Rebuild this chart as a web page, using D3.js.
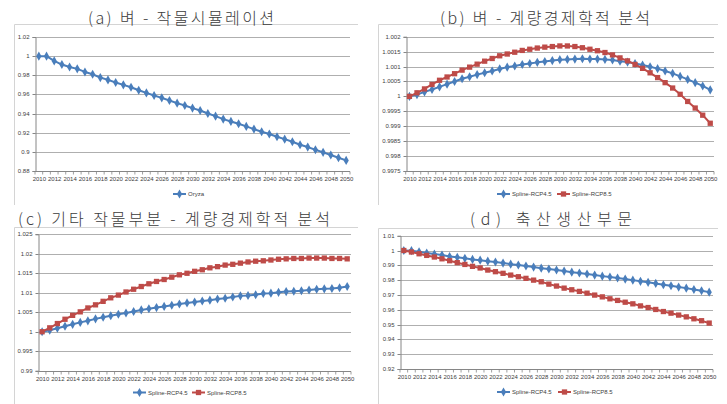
<!DOCTYPE html>
<html><head><meta charset="utf-8">
<script src="https://cdn.jsdelivr.net/npm/d3@7"></script>
<style>
body{margin:0;background:#fff;}
svg{display:block;}
.tick text{font-family:"Liberation Sans",Arial,sans-serif;font-size:6px;fill:#404040;}
</style></head>
<body><svg id="c" width="727" height="404"></svg>
<script>
const years = [2010,2011,2012,2013,2014,2015,2016,2017,2018,2019,2020,2021,2022,2023,2024,2025,2026,2027,2028,2029,2030,2031,2032,2033,2034,2035,2036,2037,2038,2039,2040,2041,2042,2043,2044,2045,2046,2047,2048,2049,2050];
const yearLabels = [2010,2012,2014,2016,2018,2020,2022,2024,2026,2028,2030,2032,2034,2036,2038,2040,2042,2044,2046,2048,2050];

const titles = ["(a) 벼 - 작물시뮬레이션","(b) 벼 - 계량경제학적 분석","(c) 기타 작물부분 - 계량경제학적 분석","(d) 축산생산부문"];
const seriesNames = ["Spline-RCP4.5","Spline-RCP8.5"];
const oryzaName = "Oryza";

const riceOryza = [1.0,1.0,0.995,0.9912,0.9887,0.9867,0.9835,0.9811,0.9776,0.9752,0.9724,0.97,0.9675,0.9644,0.9616,0.9589,0.9564,0.9536,0.9509,0.9484,0.9457,0.9432,0.9401,0.9373,0.9342,0.9318,0.9293,0.9266,0.9238,0.921,0.9186,0.9158,0.9133,0.9106,0.9074,0.905,0.9022,0.8995,0.8967,0.8939,0.8911];

const riceRcp45 = [1.0,1.00006,1.00015,1.00023,1.00032,1.00041,1.0005,1.00059,1.00066,1.00073,1.00079,1.00085,1.00092,1.00098,1.00102,1.00107,1.0011,1.00114,1.00117,1.0012,1.00123,1.00124,1.00125,1.00126,1.00125,1.00125,1.00124,1.00122,1.00118,1.00115,1.0011,1.00105,1.00099,1.00093,1.00085,1.00077,1.00067,1.00057,1.00046,1.00035,1.00022];
const riceRcp85 = [1.0,1.00012,1.00025,1.0004,1.00054,1.00065,1.00076,1.00088,1.00098,1.00108,1.00118,1.00127,1.00136,1.00142,1.00148,1.00154,1.00158,1.00162,1.00165,1.00167,1.00169,1.00169,1.00167,1.00163,1.00158,1.00153,1.00147,1.00139,1.00129,1.00119,1.00107,1.00094,1.00079,1.00063,1.00046,1.00028,1.00007,0.99983,0.99961,0.99937,0.9991];

const otherRcp45 = [1.0,1.0004,1.0009,1.0014,1.0019,1.0024,1.0028,1.0033,1.0037,1.0041,1.0045,1.0048,1.0052,1.0056,1.0059,1.0062,1.0065,1.0068,1.0071,1.0074,1.0076,1.0079,1.0081,1.0084,1.0086,1.0089,1.0092,1.0093,1.0095,1.0098,1.0099,1.0101,1.0103,1.0104,1.0105,1.0107,1.0109,1.011,1.0111,1.0113,1.0116];
const otherRcp85 = [1.0,1.001,1.0021,1.0032,1.0042,1.0051,1.0061,1.0069,1.0078,1.0087,1.0094,1.0102,1.0109,1.0116,1.0123,1.0129,1.0134,1.014,1.0146,1.015,1.0155,1.0159,1.0164,1.0167,1.0171,1.0173,1.0176,1.0179,1.0181,1.0182,1.0184,1.0186,1.0187,1.0188,1.0188,1.0189,1.0189,1.0189,1.0188,1.0188,1.0187];

const liveRcp45 = [1.0,0.9999,0.9992,0.9983,0.9976,0.9969,0.996,0.9954,0.9947,0.994,0.9935,0.9928,0.9922,0.9915,0.9908,0.9902,0.9895,0.9888,0.9881,0.9875,0.9868,0.9861,0.9854,0.9848,0.9841,0.9834,0.9827,0.9821,0.9814,0.9807,0.98,0.9792,0.9785,0.9778,0.9769,0.9762,0.9753,0.9746,0.9737,0.9728,0.9719];
const liveRcp85 = [1.0,0.999,0.9978,0.9967,0.9956,0.9944,0.9931,0.9918,0.9906,0.9893,0.9882,0.9868,0.9857,0.9846,0.9834,0.9823,0.9812,0.98,0.9789,0.9773,0.976,0.9746,0.9735,0.9724,0.9712,0.9699,0.9687,0.9674,0.9663,0.9651,0.964,0.9626,0.9615,0.9602,0.9588,0.9577,0.9564,0.9552,0.9539,0.9526,0.9510];

const ticksA = [0.88,0.9,0.92,0.94,0.96,0.98,1,1.02];
const ticksB = [0.9975,0.998,0.9985,0.999,0.9995,1,1.0005,1.001,1.0015,1.002];
const ticksC = [0.99,0.995,1,1.005,1.01,1.015,1.02,1.025];
const ticksD = [0.92,0.93,0.94,0.95,0.96,0.97,0.98,0.99,1,1.01];

const BLUE = "#4A7EBB", RED = "#BE4B48";

const svg = d3.select("#c");

const panels = [
  {title:titles[0], tx:181, ty:17, tw:186, frame:[14,24,358,205], L:35, R:350, T:37, B:171, ticks:ticksA,
   series:[{name:oryzaName, vals:riceOryza, color:BLUE, sym:d3.symbolDiamond}], legY:194, legX:[173]},
  {title:titles[1], tx:545, ty:17, tw:210, frame:[378,24,718,205], L:405.7, R:714, T:36.7, B:171, ticks:ticksB,
   series:[{name:seriesNames[0], vals:riceRcp45, color:BLUE, sym:d3.symbolDiamond},{name:seriesNames[1], vals:riceRcp85, color:RED, sym:d3.symbolSquare}], legY:194, legX:[497,557]},
  {title:titles[2], tx:174, ty:218, tw:312, frame:[14,227,358,404], L:38.3, R:351, T:234.3, B:370.7, ticks:ticksC,
   series:[{name:seriesNames[0], vals:otherRcp45, color:BLUE, sym:d3.symbolDiamond},{name:seriesNames[1], vals:otherRcp85, color:RED, sym:d3.symbolSquare}], legY:392.5, legX:[133,192]},
  {title:titles[3], tx:551, ty:218, tw:162, frame:[378,228,718,404], L:400, R:713, T:235.7, B:369, ticks:ticksD,
   series:[{name:seriesNames[0], vals:liveRcp45, color:BLUE, sym:d3.symbolDiamond},{name:seriesNames[1], vals:liveRcp85, color:RED, sym:d3.symbolSquare}], legY:392, legX:[497,558]}
];

panels.forEach(p => {
  const g = svg.append("g");
  g.append("path").attr("d", `M${p.frame[0]+0.5},${p.frame[3]}V${p.frame[1]+0.5}H${p.frame[2]}`)
    .attr("fill","none").attr("stroke","#d4d4d4").attr("stroke-width",1);
  g.append("text").attr("x", p.tx).attr("y", p.ty).attr("text-anchor","middle").attr("dominant-baseline","central")
    .attr("font-family","'Noto Sans CJK KR', sans-serif").attr("font-size",16).attr("font-weight",300).attr("fill","#3c3c3c")
    .attr("textLength", p.tw).attr("lengthAdjust","spacing").text(p.title);

  const x = d3.scalePoint().domain(years).range([p.L, p.R]).padding(0.5);
  const y = d3.scaleLinear().domain([p.ticks[0], p.ticks[p.ticks.length-1]]).range([p.B, p.T]);
  const step = x.step();

  g.append("g").selectAll("line").data(p.ticks.slice(1)).join("line")
    .attr("x1", p.L).attr("x2", p.R).attr("y1", d => Math.round(y(d))+0.5).attr("y2", d => Math.round(y(d))+0.5)
    .attr("stroke","#9a9a9a").attr("stroke-width",0.8);

  const ya = g.append("g").attr("transform", `translate(${Math.round(p.L)+0.5},0)`)
    .call(d3.axisLeft(y).tickValues(p.ticks).tickSize(3).tickPadding(3).tickFormat(d => String(+d.toFixed(5))));
  ya.select(".domain").attr("stroke","#868686");
  ya.selectAll(".tick line").attr("stroke","#868686");
  ya.selectAll(".tick").attr("transform", d => `translate(0,${Math.round(y(d))+0.5})`);

  const xa = g.append("g").attr("transform", `translate(0,${Math.round(p.B)+0.5})`)
    .call(d3.axisBottom(x).tickValues(yearLabels).tickSize(0).tickPadding(6));
  xa.select(".domain").attr("d", `M${p.L},0H${p.R}`).attr("stroke","#868686");
  xa.selectAll(".tick text").attr("dy","0.5em");
  xa.append("g").selectAll("line").data(years.concat([null])).join("line")
    .attr("x1", (d,i) => i < years.length ? x(d) - step/2 : x(years[years.length-1]) + step/2)
    .attr("x2", (d,i) => i < years.length ? x(d) - step/2 : x(years[years.length-1]) + step/2)
    .attr("y1",0).attr("y2",3).attr("stroke","#868686").attr("stroke-width",0.8);

  p.series.forEach(s => {
    const line = d3.line().x((d,i) => x(years[i])).y(d => y(d));
    g.append("path").datum(s.vals).attr("d", line).attr("fill","none")
      .attr("stroke", s.color).attr("stroke-width",2).attr("stroke-linejoin","round");
    const sz = s.sym === d3.symbolSquare ? 28 : 24;
    g.append("g").selectAll("path").data(s.vals).join("path")
      .attr("transform", (d,i) => `translate(${x(years[i])},${y(d)})`)
      .attr("d", d3.symbol().type(s.sym).size(sz)).attr("fill", s.color);
  });

  p.series.forEach((s, i) => {
    const lx = p.legX[i];
    const lg = g.append("g").attr("transform", `translate(${lx},${p.legY})`);
    lg.append("line").attr("x1",0).attr("x2",13).attr("y1",0).attr("y2",0).attr("stroke", s.color).attr("stroke-width",2);
    lg.append("path").attr("transform","translate(6.5,0)").attr("d", d3.symbol().type(s.sym).size(s.sym === d3.symbolSquare ? 28 : 24)).attr("fill", s.color);
    lg.append("text").attr("x",15).attr("y",0).attr("dominant-baseline","central")
      .attr("font-family","'Liberation Sans', Arial, sans-serif").attr("font-size",6).attr("fill","#404040").text(s.name);
  });
});
</script></body></html>
